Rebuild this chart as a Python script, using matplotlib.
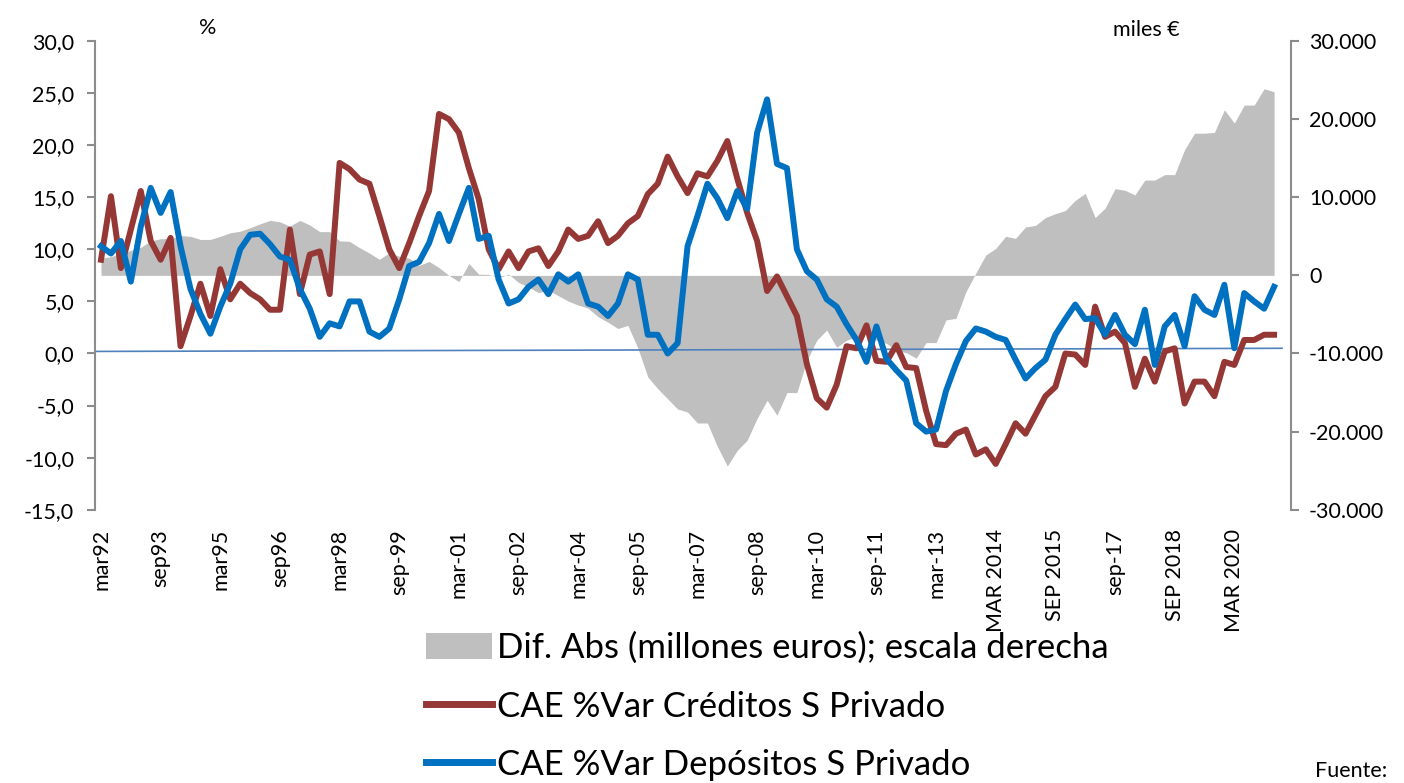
import matplotlib
matplotlib.use("Agg")
import matplotlib.pyplot as plt
import matplotlib.ticker as mticker
from matplotlib.patches import Patch
from matplotlib.lines import Line2D
import numpy as np

# --- datos (trimestrales, mar92 ... sep21) ---
creditos = [9.0, 15.1, 8.2, 11.9, 15.6, 10.8, 9.0, 11.1, 0.7, 3.6,
            6.7, 3.6, 8.1, 5.2, 6.7, 5.8, 5.2, 4.2, 4.2, 11.9,
            5.7, 9.5, 9.8, 5.7, 18.3, 17.7, 16.7, 16.3, 13.2, 10.0,
            8.2, 10.6, 13.2, 15.6, 23.0, 22.5, 21.2, 17.8, 14.8, 10.0,
            8.1, 9.8, 8.2, 9.8, 10.1, 8.4, 9.8, 11.9, 11.0, 11.3,
            12.7, 10.6, 11.3, 12.5, 13.2, 15.3, 16.3, 18.9, 17.0, 15.4,
            17.3, 17.0, 18.5, 20.4, 16.8, 13.5, 10.8, 6.0, 7.4, 5.5,
            3.6, -1.0, -4.3, -5.2, -3.0, 0.7, 0.5, 2.7, -0.7, -0.8,
            0.8, -1.3, -1.4, -5.5, -8.7, -8.8, -7.7, -7.3, -9.7, -9.2,
            -10.6, -8.7, -6.7, -7.7, -5.9, -4.1, -3.2, 0.0, -0.1, -1.1,
            4.5, 1.6, 2.1, 1.0, -3.2, -0.5, -2.7, 0.2, 0.5, -4.8,
            -2.7, -2.7, -4.1, -0.8, -1.1, 1.3, 1.3, 1.8, 1.8]

depositos = [10.3, 9.6, 10.8, 6.9, 12.2, 15.9, 13.5, 15.5, 10.3, 6.2,
             3.8, 1.9, 4.5, 6.7, 10.0, 11.4, 11.5, 10.5, 9.3, 9.0,
             6.2, 4.3, 1.6, 2.9, 2.6, 5.0, 5.0, 2.1, 1.6, 2.4,
             5.2, 8.4, 8.8, 10.6, 13.4, 10.8, 13.4, 15.9, 11.0, 11.3,
             7.1, 4.8, 5.2, 6.4, 7.1, 5.7, 7.6, 6.9, 7.6, 4.8,
             4.5, 3.6, 4.8, 7.6, 7.1, 1.8, 1.8, 0.0, 1.0, 10.3,
             13.2, 16.3, 14.9, 13.0, 15.6, 13.9, 21.2, 24.4, 18.2, 17.8,
             10.0, 7.9, 7.1, 5.2, 4.5, 2.8, 1.3, -0.8, 2.6, -0.5,
             -1.6, -2.6, -6.7, -7.5, -7.3, -3.6, -1.0, 1.2, 2.4, 2.1,
             1.6, 1.3, -0.6, -2.4, -1.4, -0.6, 1.8, 3.3, 4.7, 3.3,
             3.4, 1.8, 3.7, 1.8, 0.9, 4.2, -1.1, 2.6, 3.7, 0.7,
             5.5, 4.2, 3.7, 6.6, 0.5, 5.8, 5.0, 4.3, 6.4]

dif_abs = [2200, 2400, 2800, 3200, 3600, 4400, 4700, 4700, 5100, 5000,
           4600, 4600, 5000, 5450, 5650, 6100, 6600, 7040, 6850, 6300,
           7040, 6450, 5600, 5600, 4420, 4350, 3550, 2850, 2050, 2900,
           2450, 2200, 1280, 1790, 1000, 0, -800, 1520, 150, 130,
           -300, 150, -900, -1500, -2200, -1900, -2600, -3300, -3800, -4200,
           -5300, -6000, -6800, -6400, -9300, -13000, -14500, -15800, -17100, -17500,
           -18900, -18900, -21900, -24400, -22400, -21100, -18300, -16000, -17900, -15000,
           -15000, -10900, -8300, -7000, -9200, -8300, -7900, -7000, -8300, -8700,
           -9600, -9900, -10600, -8600, -8600, -5700, -5500, -2100, 300, 2600,
           3450, 5000, 4750, 6200, 6400, 7400, 7900, 8300, 9600, 10500,
           7400, 8600, 11100, 10900, 10300, 12200, 12200, 12900, 12900, 16100,
           18200, 18200, 18300, 21200, 19500, 21800, 21800, 23900, 23500]

# linea fina horizontal (escala izquierda): inicio y final
linea_ref = [0.2, 0.5]

etiquetas = ["mar92", "sep93", "mar95", "sep96", "mar98", "sep-99", "mar-01",
             "sep-02", "mar-04", "sep-05", "mar-07", "sep-08", "mar-10",
             "sep-11", "mar-13", "MAR 2014", "SEP 2015", "sep-17",
             "SEP 2018", "MAR 2020"]

x = np.arange(len(creditos))
pos_etiquetas = np.arange(len(etiquetas)) * 6

plt.rcParams['font.family'] = ['Lato', 'DejaVu Sans']

fig = plt.figure(figsize=(14.04, 7.83), dpi=100)
ax = fig.add_axes([0.0677, 0.349, 0.8518, 0.5986])
ax2 = ax.twinx()

# area gris (escala derecha)
ax2.fill_between(x, 0, dif_abs, color='#BFBFBF', linewidth=0)
ax2.set_ylim(-30000, 30000)
ax2.set_yticks(np.arange(-30000, 30001, 10000))
ax2.yaxis.set_major_formatter(mticker.FuncFormatter(
    lambda v, p: f"{int(v):,}".replace(",", ".")))

# lineas (escala izquierda)
ax.set_zorder(ax2.get_zorder() + 1)
ax.patch.set_visible(False)
ax.plot([-0.6, 118.8], linea_ref, color='#4F81BD', lw=1.2)
ax.plot(x, creditos, color='#953735', lw=4.3, solid_joinstyle='round')
ax.plot(x, depositos, color='#0070C0', lw=4.3, solid_joinstyle='round')

ax.set_ylim(-15, 30)
ax.set_yticks(np.arange(-15, 31, 5))
ax.yaxis.set_major_formatter(mticker.FuncFormatter(
    lambda v, p: f"{v:.1f}".replace(".", ",")))
ax.set_xlim(-0.6, 119.7)
ax.set_xticks(pos_etiquetas)
ax.set_xticklabels(etiquetas, rotation=90, va='top', ha='center')

for a in (ax, ax2):
    for s in ('top', 'bottom'):
        a.spines[s].set_visible(False)
    a.spines['left'].set_color('#8C8C8C')
    a.spines['right'].set_color('#8C8C8C')
    a.spines['left'].set_linewidth(1.5)
    a.spines['right'].set_linewidth(1.5)
ax.spines['right'].set_visible(False)
ax2.spines['left'].set_visible(False)

ax.tick_params(axis='y', labelsize=15.5, length=6, width=1.5, color='#8C8C8C', pad=9)
ax2.tick_params(axis='y', labelsize=15.5, length=6, width=1.5, color='#8C8C8C', pad=7)
ax.tick_params(axis='x', labelsize=15.5, length=0, pad=14)

fig.text(208 / 1404, 1 - 28 / 783, "%", fontsize=15.5, ha='center', va='center')
fig.text(1146 / 1404, 1 - 30 / 783, "miles €", fontsize=15.5, ha='center', va='center')
fig.text(1315 / 1404, 1 - 781 / 783, "Fuente:", fontsize=15.5, ha='left', va='bottom')

handles = [Patch(facecolor='#BFBFBF', edgecolor='none'),
           Line2D([], [], color='#953735', lw=5),
           Line2D([], [], color='#0070C0', lw=5)]
labels = ["Dif. Abs (millones euros); escala derecha",
          "CAE %Var Créditos S Privado",
          "CAE %Var Depósitos S Privado"]
fig.legend(handles, labels, loc='upper left',
           bbox_to_anchor=(426 / 1404, 1 - 632 / 783),
           bbox_transform=fig.transFigure, frameon=False,
           prop={'size': 25}, handlelength=1.9, handleheight=0.78,
           handletextpad=0.15, labelspacing=0.76, borderpad=0,
           borderaxespad=0)

fig.savefig("out.png", dpi=100)
